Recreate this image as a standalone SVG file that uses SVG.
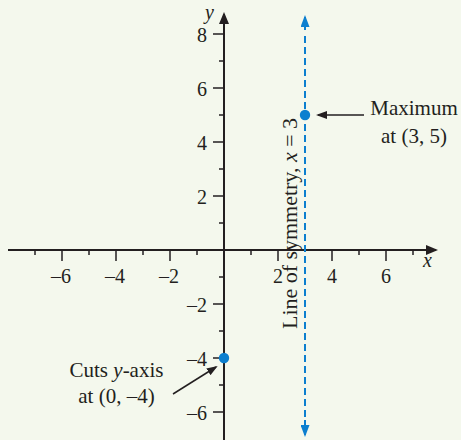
<svg xmlns="http://www.w3.org/2000/svg" width="461" height="440" viewBox="0 0 461 440">
<style>
.bg{fill:#f4f8ed}
.axis{stroke:#231f20;stroke-width:2;fill:none}
.tick{stroke:#231f20;stroke-width:1.5}
.t{font-family:"Liberation Serif","Times New Roman",serif;font-size:20px;fill:#231f20}
.ann{font-family:"Liberation Serif","Times New Roman",serif;font-size:21px;fill:#231f20}
.it{font-style:italic}
.sym{stroke:#0c7fcf;stroke-width:2;stroke-dasharray:7 4;fill:none}
.pt{fill:#0c7fcf}
.lead{stroke:#231f20;stroke-width:1.5;fill:none}
</style>
<defs>
<marker id="axArrow" markerUnits="userSpaceOnUse" markerWidth="12" markerHeight="10" refX="10" refY="5" orient="auto" viewBox="0 0 12 10">
<path d="M0,0 L12,5 L0,10 Z" fill="#231f20"/>
</marker>
<marker id="blueArrow" markerUnits="userSpaceOnUse" markerWidth="12" markerHeight="9" refX="10" refY="4.5" orient="auto" viewBox="0 0 12 9">
<path d="M0,0 L12,4.5 L0,9 Z" fill="#0c7fcf"/>
</marker>
<marker id="leadArrow" markerUnits="userSpaceOnUse" markerWidth="11" markerHeight="8" refX="9" refY="4" orient="auto" viewBox="0 0 11 8">
<path d="M0,0 L11,4 L0,8 Z" fill="#231f20"/>
</marker>
</defs>
<rect class="bg" x="0" y="0" width="461" height="440"/>

<g id="axes">
<line class="axis" x1="8" y1="250" x2="436" y2="250" marker-end="url(#axArrow)"/>
<line class="axis" x1="224" y1="440" x2="224" y2="14" marker-end="url(#axArrow)"/>
<g id="x-ticks">
<line class="tick" x1="35" y1="250" x2="35" y2="255"/>
<line class="tick" x1="62" y1="250" x2="62" y2="261"/>
<line class="tick" x1="89" y1="250" x2="89" y2="255"/>
<line class="tick" x1="116" y1="250" x2="116" y2="261"/>
<line class="tick" x1="143" y1="250" x2="143" y2="255"/>
<line class="tick" x1="170" y1="250" x2="170" y2="261"/>
<line class="tick" x1="197" y1="250" x2="197" y2="255"/>
<line class="tick" x1="251" y1="250" x2="251" y2="255"/>
<line class="tick" x1="278" y1="250" x2="278" y2="261"/>
<line class="tick" x1="332" y1="250" x2="332" y2="261"/>
<line class="tick" x1="359" y1="250" x2="359" y2="255"/>
<line class="tick" x1="386" y1="250" x2="386" y2="261"/>
<line class="tick" x1="413" y1="250" x2="413" y2="255"/>
</g>
<g id="y-ticks">
<line class="tick" x1="213" y1="34" x2="224" y2="34"/>
<line class="tick" x1="219" y1="61" x2="224" y2="61"/>
<line class="tick" x1="213" y1="88" x2="224" y2="88"/>
<line class="tick" x1="219" y1="115" x2="224" y2="115"/>
<line class="tick" x1="213" y1="142" x2="224" y2="142"/>
<line class="tick" x1="219" y1="169" x2="224" y2="169"/>
<line class="tick" x1="213" y1="196" x2="224" y2="196"/>
<line class="tick" x1="219" y1="223" x2="224" y2="223"/>
<line class="tick" x1="219" y1="277" x2="224" y2="277"/>
<line class="tick" x1="213" y1="304" x2="224" y2="304"/>
<line class="tick" x1="219" y1="331" x2="224" y2="331"/>
<line class="tick" x1="213" y1="358" x2="224" y2="358"/>
<line class="tick" x1="219" y1="385" x2="224" y2="385"/>
<line class="tick" x1="213" y1="412" x2="224" y2="412"/>
</g>
<g id="x-labels" class="t" text-anchor="middle">
<text x="61" y="283">–6</text>
<text x="115" y="283">–4</text>
<text x="169" y="283">–2</text>
<text x="278" y="283">2</text>
<text x="332" y="283">4</text>
<text x="386" y="283">6</text>
</g>
<g id="y-labels" class="t" text-anchor="end">
<text x="207" y="41.5">8</text>
<text x="207" y="95.5">6</text>
<text x="207" y="149.5">4</text>
<text x="207" y="203.5">2</text>
<text x="207" y="312">–2</text>
<text x="207" y="366">–4</text>
<text x="207" y="420">–6</text>
</g>
<text class="t it" x="423" y="266.5">x</text>
<text class="t it" x="205" y="19">y</text>
</g>

<g id="symmetry-line">
<line class="sym" x1="305" y1="36" x2="305" y2="418"/>
<line class="sym" x1="305" y1="30" x2="305" y2="17" stroke-dasharray="none" marker-end="url(#blueArrow)"/>
<line class="sym" x1="305" y1="420" x2="305" y2="435" stroke-dasharray="none" marker-end="url(#blueArrow)"/>
<text class="ann" transform="translate(297,329) rotate(-90)" textLength="211" lengthAdjust="spacingAndGlyphs">Line of symmetry, <tspan class="it">x</tspan> = 3</text>
</g>

<g id="maximum">
<circle class="pt" cx="305" cy="115" r="5.2"/>
<line class="lead" x1="364" y1="115" x2="318" y2="115" marker-end="url(#leadArrow)"/>
<text class="ann" x="414" y="115" text-anchor="middle">Maximum</text>
<text class="ann" x="414" y="142.5" text-anchor="middle">at (3, 5)</text>
</g>

<g id="y-intercept">
<circle class="pt" cx="224" cy="358" r="5.2"/>
<line class="lead" x1="173" y1="394" x2="216" y2="367" marker-end="url(#leadArrow)"/>
<text class="ann" x="116.5" y="377" text-anchor="middle">Cuts <tspan class="it">y</tspan>-axis</text>
<text class="ann" x="116.5" y="403" text-anchor="middle">at (0, –4)</text>
</g>
</svg>
